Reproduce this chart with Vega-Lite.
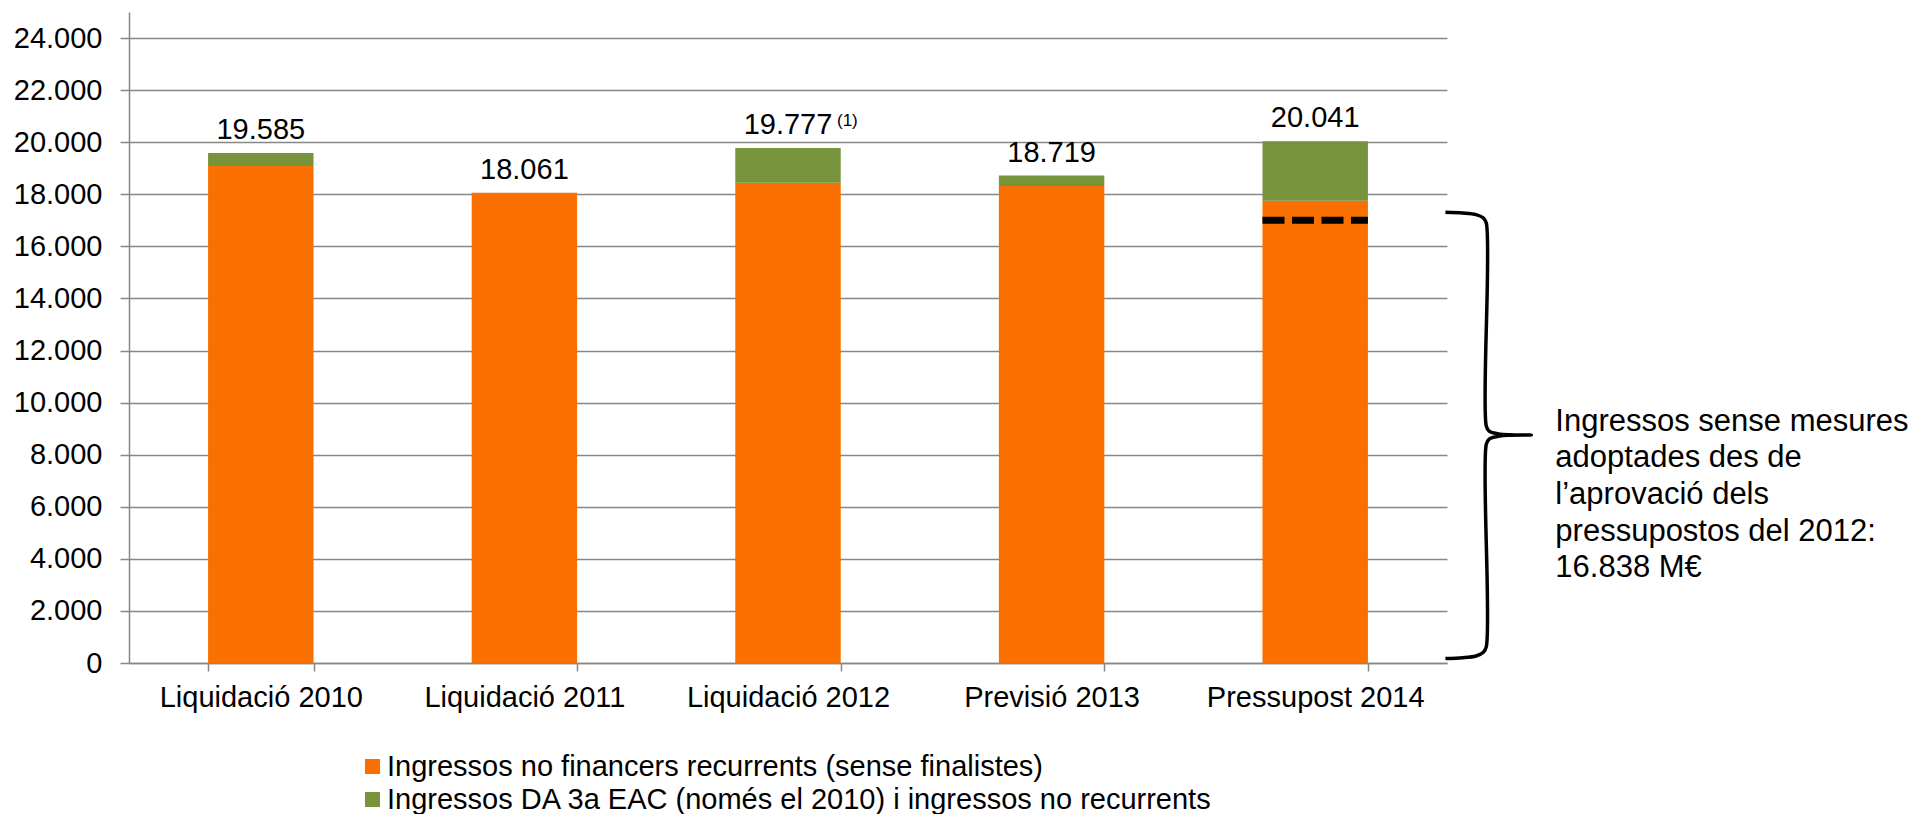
{
  "$schema": "https://vega.github.io/schema/vega-lite/v6.json",
  "width": 1318,
  "height": 651,
  "autosize": {"type": "none"},
  "padding": {"left": 129, "top": 12, "right": 474, "bottom": 151},
  "config": {
    "font": "Liberation Sans",
    "view": {"stroke": null},
    "locale": {"number": {"decimal": ",", "thousands": ".", "grouping": [3], "currency": ["", " €"]}}
  },
  "resolve": {"scale": {"x": "independent"}},
  "layer": [
    {
      "layer": [
        {
          "data": {"values": [
            {"cat": "Liquidació 2010", "series": "Ingressos no financers recurrents (sense finalistes)", "value": 19090},
            {"cat": "Liquidació 2010", "series": "Ingressos DA 3a EAC (només el 2010) i ingressos no recurrents", "value": 495},
            {"cat": "Liquidació 2011", "series": "Ingressos no financers recurrents (sense finalistes)", "value": 18061},
            {"cat": "Liquidació 2011", "series": "Ingressos DA 3a EAC (només el 2010) i ingressos no recurrents", "value": 0},
            {"cat": "Liquidació 2012", "series": "Ingressos no financers recurrents (sense finalistes)", "value": 18440},
            {"cat": "Liquidació 2012", "series": "Ingressos DA 3a EAC (només el 2010) i ingressos no recurrents", "value": 1337},
            {"cat": "Previsió 2013", "series": "Ingressos no financers recurrents (sense finalistes)", "value": 18320},
            {"cat": "Previsió 2013", "series": "Ingressos DA 3a EAC (només el 2010) i ingressos no recurrents", "value": 399},
            {"cat": "Pressupost 2014", "series": "Ingressos no financers recurrents (sense finalistes)", "value": 17750},
            {"cat": "Pressupost 2014", "series": "Ingressos DA 3a EAC (només el 2010) i ingressos no recurrents", "value": 2291}
          ]},
          "layer": [
            {
              "mark": {"type": "bar"},
              "encoding": {
                "x": {
                  "field": "cat", "type": "nominal", "title": null,
                  "scale": {"domain": ["Liquidació 2010", "Liquidació 2011", "Liquidació 2012", "Previsió 2013", "Pressupost 2014"], "paddingInner": 0.6, "paddingOuter": 0.3},
                  "axis": {
                    "labelAngle": 0, "labelFontSize": 29, "labelColor": "#000000", "labelPadding": 12, "labelLimit": 0,
                    "domainColor": "#878787", "domainWidth": 1.5, "tickColor": "#878787", "tickWidth": 1.5,
                    "tickSize": 8, "tickBand": "extent", "grid": false
                  }
                },
                "y": {
                  "field": "value", "type": "quantitative", "stack": "zero", "title": null,
                  "scale": {"domain": [0, 25000], "nice": false},
                  "axis": {
                    "values": [0, 2000, 4000, 6000, 8000, 10000, 12000, 14000, 16000, 18000, 20000, 22000, 24000],
                    "format": ",d", "labelFontSize": 29, "labelColor": "#000000", "labelPadding": 18,
                    "tickSize": 9, "tickColor": "#878787", "tickWidth": 1.5,
                    "domainColor": "#878787", "domainWidth": 1.5,
                    "grid": true, "gridColor": "#878787", "gridWidth": 1.5
                  }
                },
                "color": {
                  "field": "series", "type": "nominal", "title": null,
                  "scale": {"domain": ["Ingressos no financers recurrents (sense finalistes)", "Ingressos DA 3a EAC (només el 2010) i ingressos no recurrents"], "range": ["#F97000", "#77933C"]},
                  "legend": {
                    "orient": "none", "legendX": 229, "legendY": 740, "direction": "vertical",
                    "symbolType": "square", "symbolSize": 225, "symbolStrokeWidth": 0,
                    "labelFontSize": 29, "labelColor": "#000000", "labelOffset": 0, "rowPadding": 3, "labelLimit": 1200
                  }
                },
                "order": {"field": "series", "sort": "descending"}
              }
            },
            {
              "transform": [{"aggregate": [{"op": "sum", "field": "value", "as": "total"}], "groupby": ["cat"]}],
              "mark": {"type": "text", "fontSize": 29, "color": "#000000", "baseline": "alphabetic", "dy": -14},
              "encoding": {
                "x": {"field": "cat", "type": "nominal", "title": null},
                "y": {"field": "total", "type": "quantitative", "title": null, "scale": {"domain": [0, 25000], "nice": false}},
                "text": {"field": "total", "type": "quantitative", "format": ",d"}
              }
            }
          ]
        },
        {
          "data": {"values": [{"cat": "Liquidació 2012", "total": 19777, "note": "(1)"}]},
          "mark": {"type": "text", "fontSize": 17, "color": "#000000", "align": "left", "baseline": "alphabetic", "dx": 49, "dy": -22},
          "encoding": {
            "x": {"field": "cat", "type": "nominal", "title": null},
            "y": {"field": "total", "type": "quantitative", "title": null, "scale": {"domain": [0, 25000], "nice": false}},
            "text": {"field": "note"}
          }
        },
        {
          "data": {"values": [{"cat": "Pressupost 2014", "level": 17000}]},
          "mark": {"type": "rule", "color": "#000000", "strokeWidth": 7, "strokeDash": [22, 7.5], "strokeCap": "butt"},
          "encoding": {
            "x": {"field": "cat", "type": "nominal", "title": null, "bandPosition": 0},
            "x2": {"field": "cat", "bandPosition": 1},
            "y": {"field": "level", "type": "quantitative", "title": null, "scale": {"domain": [0, 25000], "nice": false}}
          }
        }
      ]
    },
    {
      "layer": [
        {
          "data": {"values": [
            {"i": 1, "bx": 4.994, "by": 17308},
            {"i": 2, "bx": 5.06, "by": 17280},
            {"i": 3, "bx": 5.11, "by": 17220},
            {"i": 4, "bx": 5.137, "by": 17100},
            {"i": 5, "bx": 5.149, "by": 16900},
            {"i": 6, "bx": 5.149, "by": 9100},
            {"i": 7, "bx": 5.16, "by": 8900},
            {"i": 8, "bx": 5.2, "by": 8790},
            {"i": 9, "bx": 5.32, "by": 8756},
            {"i": 10, "bx": 5.2, "by": 8720},
            {"i": 11, "bx": 5.16, "by": 8600},
            {"i": 12, "bx": 5.149, "by": 8400},
            {"i": 13, "bx": 5.149, "by": 620},
            {"i": 14, "bx": 5.137, "by": 400},
            {"i": 15, "bx": 5.11, "by": 270},
            {"i": 16, "bx": 5.06, "by": 200},
            {"i": 17, "bx": 4.994, "by": 169}
          ]},
          "mark": {"type": "line", "color": "#000000", "strokeWidth": 3.5, "interpolate": "catmull-rom", "clip": false},
          "encoding": {
            "x": {"field": "bx", "type": "quantitative", "axis": null, "scale": {"domain": [0, 5], "nice": false, "zero": false}},
            "y": {"field": "by", "type": "quantitative", "title": null, "scale": {"domain": [0, 25000], "nice": false}},
            "order": {"field": "i", "type": "quantitative"}
          }
        },
        {
          "data": {"values": [{"tx": 5.411, "ty": 9270, "label": ["Ingressos sense mesures", "adoptades des de", "l’aprovació dels", "pressupostos del 2012:", "16.838 M€"]}]},
          "mark": {"type": "text", "fontSize": 31, "color": "#000000", "align": "left", "baseline": "middle", "lineHeight": 36.7},
          "encoding": {
            "x": {"field": "tx", "type": "quantitative", "axis": null, "scale": {"domain": [0, 5], "nice": false, "zero": false}},
            "y": {"field": "ty", "type": "quantitative", "title": null, "scale": {"domain": [0, 25000], "nice": false}},
            "text": {"field": "label"}
          }
        }
      ]
    }
  ]
}
